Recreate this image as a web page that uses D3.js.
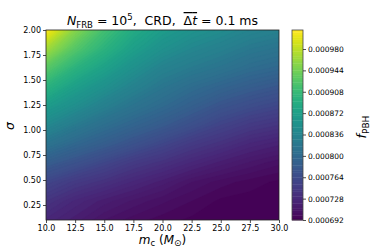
<!DOCTYPE html>
<html lang="en">
<head>
<meta charset="UTF-8">
<title>f_PBH contour</title>
<script src="https://d3js.org/d3.v7.min.js"></script>
<style>
  body { margin: 0; background: #fff; }
  text { font-family: "DejaVu Sans", sans-serif; fill: #000; white-space: pre; }
</style>
</head>
<body>
<svg id="chart" width="374" height="249"></svg>
<script>
// grid
const massValues = [10, 12.5, 15, 17.5, 20, 22.5, 25, 27.5, 30];
const sigmaValues = [0.10, 0.29, 0.48, 0.67, 0.86, 1.05, 1.24, 1.43, 1.62, 1.81, 2.00];
// f_PBH, one row per sigma (bottom to top), one value per mass
const fRows = [
  [0.000727, 0.000718, 0.000708, 0.000702, 0.000698, 0.000695, 0.000694, 0.000692, 0.000692],
  [0.000740, 0.000727, 0.000718, 0.000711, 0.000705, 0.000700, 0.000695, 0.000694, 0.000692],
  [0.000759, 0.000746, 0.000737, 0.000727, 0.000718, 0.000708, 0.000702, 0.000698, 0.000695],
  [0.000785, 0.000772, 0.000759, 0.000746, 0.000737, 0.000727, 0.000718, 0.000711, 0.000705],
  [0.000814, 0.000798, 0.000785, 0.000772, 0.000759, 0.000746, 0.000737, 0.000727, 0.000721],
  [0.000842, 0.000823, 0.000807, 0.000794, 0.000782, 0.000769, 0.000756, 0.000746, 0.000740],
  [0.000868, 0.000849, 0.000830, 0.000814, 0.000801, 0.000788, 0.000775, 0.000766, 0.000759],
  [0.000897, 0.000871, 0.000852, 0.000833, 0.000817, 0.000804, 0.000794, 0.000785, 0.000778],
  [0.000929, 0.000897, 0.000874, 0.000852, 0.000833, 0.000823, 0.000814, 0.000804, 0.000798],
  [0.000967, 0.000926, 0.000897, 0.000871, 0.000852, 0.000839, 0.000830, 0.000820, 0.000814],
  [0.001012, 0.000954, 0.000916, 0.000887, 0.000868, 0.000855, 0.000846, 0.000836, 0.000830]
];
const levelMin = 0.000692, levelMax = 0.001012, levelStep = 0.000004;
const xTicks = [10, 12.5, 15, 17.5, 20, 22.5, 25, 27.5, 30];
const yTicks = [0.25, 0.5, 0.75, 1.0, 1.25, 1.5, 1.75, 2.0];
const cbarTicks = [0.000692, 0.000728, 0.000764, 0.000800, 0.000836, 0.000872, 0.000908, 0.000944, 0.000980];

const svg = d3.select("#chart");
const L = 46, R = 279, T = 30, B = 220;

const x = d3.scaleLinear().domain([10, 30]).range([L, R]);
const y = d3.scaleLinear().domain([0.1, 2.0]).range([B, T]);

const nx = massValues.length, ny = sigmaValues.length;
// contour grid coords: value i sits at i + 0.5
const gx = d3.scaleLinear().domain([0.5, nx - 0.5]).range([x(massValues[0]), x(massValues[nx - 1])]);
const gy = d3.scaleLinear().domain([0.5, ny - 0.5]).range([y(sigmaValues[0]), y(sigmaValues[ny - 1])]);

const levels = d3.range(levelMin, levelMax - levelStep / 2, levelStep);
const norm = d3.scaleLinear().domain([levelMin, levelMax]);
const bandColor = v => d3.interpolateViridis(norm(v + levelStep / 2));

svg.append("clipPath").attr("id", "plotclip")
  .append("rect").attr("x", L).attr("y", T).attr("width", R - L).attr("height", B - T);

const flat = [].concat(...fRows);
const contours = d3.contours().size([nx, ny]).thresholds(levels)(flat);

const proj = d3.geoTransform({
  point: function(px, py) { this.stream.point(gx(px), gy(py)); }
});
const path = d3.geoPath(proj);

const plot = svg.append("g").attr("clip-path", "url(#plotclip)");
plot.append("rect").attr("x", L).attr("y", T).attr("width", R - L).attr("height", B - T)
  .attr("fill", bandColor(levelMin));
plot.selectAll("path")
  .data(contours)
  .enter().append("path")
  .attr("d", path)
  .attr("fill", d => bandColor(d.value))
  .attr("stroke", d => bandColor(d.value))
  .attr("stroke-width", 0.3);

// axes
const xAxis = svg.append("g").attr("transform", `translate(0,${B})`)
  .call(d3.axisBottom(x).tickValues(xTicks).tickFormat(d3.format(".1f")).tickSize(3).tickPadding(2));
const yAxis = svg.append("g").attr("transform", `translate(${L},0)`)
  .call(d3.axisLeft(y).tickValues(yTicks).tickFormat(d3.format(".2f")).tickSize(3).tickPadding(2));
[xAxis, yAxis].forEach(a => {
  a.select(".domain").remove();
  a.selectAll("line").attr("stroke", "#222").attr("stroke-width", 0.8);
  a.selectAll("text").attr("font-size", 8).style("font-family", "DejaVu Sans");
});

svg.append("rect").attr("x", L).attr("y", T).attr("width", R - L).attr("height", B - T)
  .attr("fill", "none").attr("stroke", "#222").attr("stroke-width", 0.8);

// colorbar
const CL = 292, CR = 303;
const cy = d3.scaleLinear().domain([levelMin, levelMax]).range([B, T]);
svg.append("g").selectAll("rect")
  .data(levels)
  .enter().append("rect")
  .attr("x", CL).attr("width", CR - CL)
  .attr("y", d => cy(d + levelStep))
  .attr("height", d => cy(d) - cy(d + levelStep) + 0.4)
  .attr("fill", d => bandColor(d));
svg.append("rect").attr("x", CL).attr("y", T).attr("width", CR - CL).attr("height", B - T)
  .attr("fill", "none").attr("stroke", "#444").attr("stroke-width", 0.8);
const cAxis = svg.append("g").attr("transform", `translate(${CR},0)`)
  .call(d3.axisRight(cy).tickValues(cbarTicks).tickFormat(d3.format(".6f")).tickSize(3).tickPadding(2));
cAxis.select(".domain").remove();
cAxis.selectAll("line").attr("stroke", "#222").attr("stroke-width", 0.8);
cAxis.selectAll("text").attr("font-size", 7.5).style("font-family", "DejaVu Sans");

// labels
const title = svg.append("text").attr("x", (L + R) / 2).attr("y", 25)
  .attr("text-anchor", "middle").attr("font-size", 12.5);
title.append("tspan").attr("font-style", "italic").text("N");
title.append("tspan").attr("font-size", 8.5).attr("dy", 2.5).text("FRB");
title.append("tspan").attr("dy", -2.5).text(" = 10");
title.append("tspan").attr("font-size", 8.5).attr("dy", -5).text("5");
title.append("tspan").attr("dy", 5).text(",  CRD,  ");
title.append("tspan").style("text-decoration", "overline").text("Δ");
title.append("tspan").attr("font-style", "italic").style("text-decoration", "overline").text("t");
title.append("tspan").text(" = 0.1 ms");

const xl = svg.append("text").attr("x", (L + R) / 2).attr("y", 244)
  .attr("text-anchor", "middle").attr("font-size", 12);
xl.append("tspan").attr("font-style", "italic").text("m");
xl.append("tspan").attr("font-size", 8.5).attr("dy", 2).text("c");
xl.append("tspan").attr("dy", -2).text(" (");
xl.append("tspan").attr("font-style", "italic").text("M");
xl.append("tspan").attr("font-size", 9).attr("dy", 2).text("⊙");
xl.append("tspan").attr("dy", -2).text(")");

svg.append("text").attr("transform", "translate(14,126) rotate(-90)")
  .attr("text-anchor", "middle").attr("font-size", 12.5).attr("font-style", "italic").text("σ");

const cl = svg.append("text").attr("transform", "translate(366,127) rotate(-90)")
  .attr("text-anchor", "middle").attr("font-size", 12.5);
cl.append("tspan").attr("font-style", "italic").text("f");
cl.append("tspan").attr("font-size", 9).attr("dy", 2.5).text("PBH");
</script>
</body>
</html>
